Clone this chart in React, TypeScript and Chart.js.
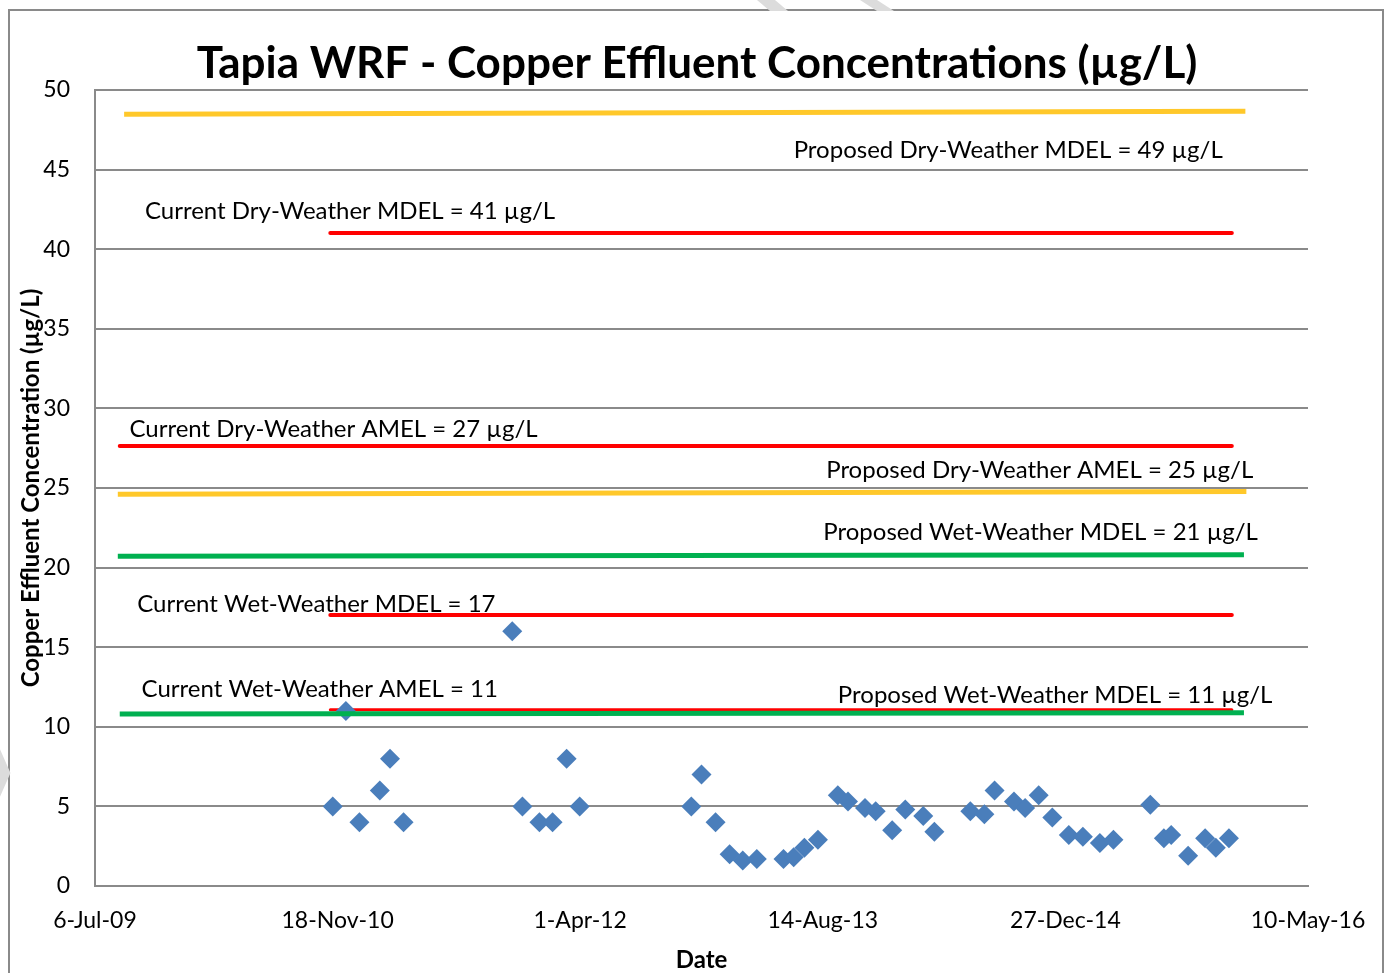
import React, { useEffect, useRef } from "react";
import { Chart, registerables } from "chart.js";

Chart.register(...registerables);

// ---------------- data ----------------
const axisStartDate = "2009-07-06";
const xTickStepDays = 500;
const xAxisSpanDays = 2500;
const yMin = 0;
const yMax = 50;
const yStep = 5;

const chartTitle = "Tapia WRF - Copper Effluent Concentrations (µg/L)";
const xAxisTitle = "Date";
const yAxisTitle = "Copper Effluent Concentration (µg/L)";

const sampleDates = [
  "2010-11-08", "2010-12-05", "2011-01-02", "2011-02-13", "2011-03-06", "2011-04-03",
  "2011-11-13", "2011-12-04", "2012-01-08", "2012-02-04", "2012-03-04", "2012-03-31",
  "2012-11-16", "2012-12-07", "2013-01-05", "2013-02-03", "2013-03-02", "2013-03-31",
  "2013-05-25", "2013-06-15", "2013-07-07", "2013-08-04", "2013-09-14", "2013-10-05",
  "2013-11-09", "2013-12-01", "2014-01-04", "2014-01-31", "2014-03-09", "2014-04-01",
  "2014-06-14", "2014-07-13", "2014-08-03", "2014-09-12", "2014-10-05", "2014-11-02",
  "2014-11-30", "2015-01-03", "2015-02-01", "2015-03-08", "2015-04-05", "2015-06-20",
  "2015-07-18", "2015-08-02", "2015-09-06", "2015-10-11", "2015-11-02", "2015-11-29",
];
const copperValues = [
  5, 11, 4, 6, 8, 4,
  16, 5, 4, 4, 8, 5,
  5, 7, 4, 2, 1.6, 1.7,
  1.7, 1.8, 2.4, 2.9, 5.7, 5.3,
  4.9, 4.7, 3.5, 4.8, 4.4, 3.4,
  4.7, 4.5, 6, 5.3, 4.9, 5.7,
  4.3, 3.2, 3.1, 2.7, 2.9, 5.1,
  3, 3.2, 1.9, 3, 2.4, 3,
];

const limitNames = [
  "Proposed Dry-Weather MDEL",
  "Current Dry-Weather MDEL",
  "Current Dry-Weather AMEL",
  "Proposed Dry-Weather AMEL",
  "Proposed Wet-Weather MDEL",
  "Current Wet-Weather MDEL",
  "Current Wet-Weather AMEL",
  "Proposed Wet-Weather AMEL",
];
const limitKinds = [
  "proposedDry", "current", "current", "proposedDry",
  "proposedWet", "current", "current", "proposedWet",
];
const limitStartDates = [
  "2009-09-04", "2010-11-03", "2009-08-26", "2009-08-22",
  "2009-08-22", "2010-11-03", "2010-11-03", "2009-08-26",
];
const limitEndDates = [
  "2016-01-02", "2015-12-05", "2015-12-05", "2016-01-04",
  "2015-12-30", "2015-12-05", "2015-12-05", "2015-12-30",
];
const limitStartValues = [48.47, 41.02, 27.64, 24.61, 20.71, 17.02, 11.07, 10.8];
const limitEndValues = [48.66, 41.02, 27.64, 24.78, 20.8, 17.02, 11.07, 10.88];

const annotationTexts = [
  "Proposed Dry-Weather MDEL = 49 µg/L",
  "Current Dry-Weather MDEL = 41 µg/L",
  "Current Dry-Weather AMEL = 27 µg/L",
  "Proposed Dry-Weather AMEL = 25 µg/L",
  "Proposed Wet-Weather MDEL = 21 µg/L",
  "Current Wet-Weather MDEL = 17",
  "Current Wet-Weather AMEL = 11",
  "Proposed Wet-Weather MDEL = 11 µg/L",
];
const annotationDates = [
  "2013-06-15", "2009-10-17", "2009-09-15", "2013-08-21",
  "2013-08-15", "2009-10-01", "2009-10-10", "2013-09-14",
];
const annotationValues = [45.73, 41.9, 28.2, 25.63, 21.73, 17.21, 11.87, 11.5];

// ---------------- helpers ----------------
const MS_DAY = 86400000;
const MONTHS = ["Jan", "Feb", "Mar", "Apr", "May", "Jun", "Jul", "Aug", "Sep", "Oct", "Nov", "Dec"];
const parseDate = (s: string) => {
  const [y, m, d] = s.split("-").map(Number);
  return Date.UTC(y, m - 1, d);
};
const START = parseDate(axisStartDate);
const toDay = (s: string) => Math.round((parseDate(s) - START) / MS_DAY);
const formatDay = (day: number) => {
  const dt = new Date(START + day * MS_DAY);
  return `${dt.getUTCDate()}-${MONTHS[dt.getUTCMonth()]}-${String(dt.getUTCFullYear()).slice(2)}`;
};

const FONT = "Lato, 'Open Sans', sans-serif";
const GRID = "#8a8a8a";

const KIND_STYLE: Record<string, { color: string; width: number; cap: CanvasLineCap; order: number }> = {
  proposedDry: { color: "#FFC82A", width: 5, cap: "butt", order: 3 },
  proposedWet: { color: "#00B050", width: 5, cap: "butt", order: 0 },
  current: { color: "#FF0000", width: 4, cap: "round", order: 2 },
};

const textPlugin = {
  id: "customTexts",
  beforeDraw(chart: any) {
    const ctx = chart.ctx as CanvasRenderingContext2D;
    ctx.save();
    ctx.fillStyle = "#dcdcdc";
    ctx.beginPath();
    ctx.moveTo(757, 0); ctx.lineTo(775, 0); ctx.lineTo(788, 11); ctx.lineTo(770, 11); ctx.closePath();
    ctx.fill();
    ctx.beginPath();
    ctx.moveTo(860, 0); ctx.lineTo(877, 0); ctx.lineTo(894, 11); ctx.lineTo(877, 11); ctx.closePath();
    ctx.fill();
    ctx.strokeStyle = "#dcdcdc";
    ctx.lineWidth = 10;
    ctx.beginPath();
    ctx.moveTo(-6, 748); ctx.lineTo(5, 773); ctx.lineTo(-6, 798);
    ctx.stroke();
    ctx.restore();
  },
  afterDraw(chart: any) {
    const ctx = chart.ctx as CanvasRenderingContext2D;
    const xs = chart.scales.x;
    const ys = chart.scales.y;
    const area = chart.chartArea;
    ctx.save();
    ctx.fillStyle = "#000";
    ctx.textBaseline = "alphabetic";

    ctx.font = `bold 44px ${FONT}`;
    ctx.textAlign = "center";
    ctx.fillText(chartTitle, 697, 78);

    ctx.font = `24px ${FONT}`;
    ctx.textAlign = "left";
    annotationTexts.forEach((t, i) => {
      ctx.fillText(t, xs.getPixelForValue(toDay(annotationDates[i])), ys.getPixelForValue(annotationValues[i]));
    });

    ctx.font = `bold 24px ${FONT}`;
    ctx.textAlign = "center";
    ctx.fillText(xAxisTitle, (area.left + area.right) / 2, 968);

    ctx.translate(31, (area.top + area.bottom) / 2);
    ctx.rotate(-Math.PI / 2);
    ctx.textBaseline = "middle";
    ctx.fillText(yAxisTitle, 0, 0);
    ctx.restore();
  },
};

export default function App() {
  const canvasRef = useRef<HTMLCanvasElement | null>(null);

  useEffect(() => {
    if (!canvasRef.current) return;

    const limitDatasets = limitNames.map((name, i) => {
      const st = KIND_STYLE[limitKinds[i]];
      return {
        type: "scatter" as const,
        label: name,
        data: [
          { x: toDay(limitStartDates[i]), y: limitStartValues[i] },
          { x: toDay(limitEndDates[i]), y: limitEndValues[i] },
        ],
        showLine: true,
        borderColor: st.color,
        backgroundColor: st.color,
        borderWidth: name === "Current Wet-Weather AMEL" ? 3 : st.width,
        borderCapStyle: st.cap,
        pointRadius: 0,
        pointHoverRadius: 0,
        order: st.order,
      };
    });

    const chart = new Chart(canvasRef.current, {
      type: "scatter",
      data: {
        datasets: [
          ...limitDatasets,
          {
            type: "scatter" as const,
            label: "Copper Effluent",
            data: sampleDates.map((d, i) => ({ x: toDay(d), y: copperValues[i] })),
            pointStyle: "rectRot",
            pointRadius: 10,
            pointHoverRadius: 10,
            backgroundColor: "#4A7EBB",
            borderColor: "#4A7EBB",
            borderWidth: 0,
            order: 1,
          },
        ] as any,
      },
      options: {
        animation: false,
        responsive: false,
        maintainAspectRatio: false,
        layout: { padding: { left: 10, right: 80, top: 90, bottom: 0 } },
        plugins: {
          legend: { display: false },
          tooltip: { enabled: false },
          title: { display: false },
        },
        scales: {
          x: {
            type: "linear",
            min: 0,
            max: xAxisSpanDays,
            afterFit: (s: any) => { s.height = 87; },
            ticks: {
              stepSize: xTickStepDays,
              autoSkip: false,
              maxRotation: 0,
              padding: 21,
              color: "#000",
              font: { family: FONT, size: 23 },
              callback: (v: any) => formatDay(Number(v)),
            },
            grid: { display: false, drawTicks: false },
            border: { display: true, color: GRID, width: 2 },
          },
          y: {
            min: yMin,
            max: yMax,
            afterFit: (s: any) => { s.width = 85; },
            ticks: {
              stepSize: yStep,
              padding: 25,
              color: "#000",
              font: { family: FONT, size: 23 },
            },
            grid: { color: GRID, lineWidth: 2, drawTicks: false },
            border: { display: true, color: GRID, width: 2 },
          },
        },
      } as any,
      plugins: [textPlugin],
    });

    return () => chart.destroy();
  }, []);

  return (
    <div style={{ position: "absolute", left: 0, top: 0, width: 1388, height: 973, overflow: "hidden", background: "#fff" }}>
      <div
        style={{
          position: "absolute",
          left: 8,
          top: 9,
          width: 1376,
          height: 1000,
          border: "2px solid #8a8a8a",
          boxSizing: "border-box",
        }}
      />
      <canvas
        ref={canvasRef}
        width={1388}
        height={973}
        style={{ position: "absolute", left: 0, top: 0, width: 1388, height: 973 }}
      />
    </div>
  );
}
